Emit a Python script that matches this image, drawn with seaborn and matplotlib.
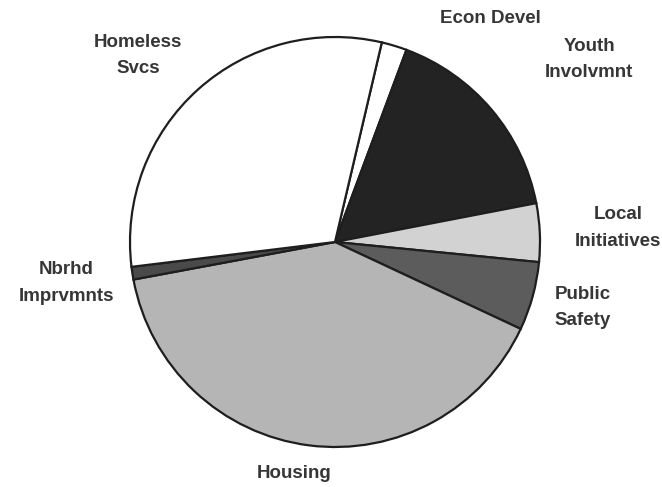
import matplotlib
matplotlib.use("Agg")
import matplotlib.pyplot as plt
import seaborn as sns

# Budget share by program area (percent), in clockwise order
categories = ["Econ Devel", "Youth\nInvolvmnt", "Local\nInitiatives", "Public\nSafety",
              "Housing", "Nbrhd\nImprvmnts", "Homeless\nSvcs"]
shares = [2.0, 16.3, 4.6, 5.4, 40.1, 1.0, 30.6]

fill_colors = ["#ffffff", "#232323", "#d2d2d2", "#5c5c5c", "#b5b5b5", "#4a4a4a", "#ffffff"]

# Label anchor points, in units of the pie radius
label_xy = [(0.76, 1.09), (1.24, 0.89), (1.38, 0.07), (1.21, -0.32),
            (-0.20, -1.13), (-1.31, -0.20), (-0.96, 0.91)]

sns.set_theme(style="white")
plt.rcParams["font.family"] = ["Liberation Sans", "DejaVu Sans"]

fig = plt.figure(figsize=(6.62, 4.87), dpi=100)
ax = fig.add_axes([0, 0, 1, 1])

ax.pie(shares, colors=fill_colors, startangle=76.8, counterclock=False,
       wedgeprops=dict(edgecolor="#1e1e1e", linewidth=1.6))

for text, (x, y) in zip(categories, label_xy):
    ax.text(x, y, text, ha="center", va="center", fontsize=13.5,
            fontweight="bold", color="#363636", linespacing=1.75)

px = 205.0
ax.set_xlim(-335 / px, (662 - 335) / px)
ax.set_ylim(-(487 - 242) / px, 242 / px)
ax.set_aspect("equal", adjustable="datalim")
ax.axis("off")

fig.savefig("out.png", dpi=100, facecolor="white")
